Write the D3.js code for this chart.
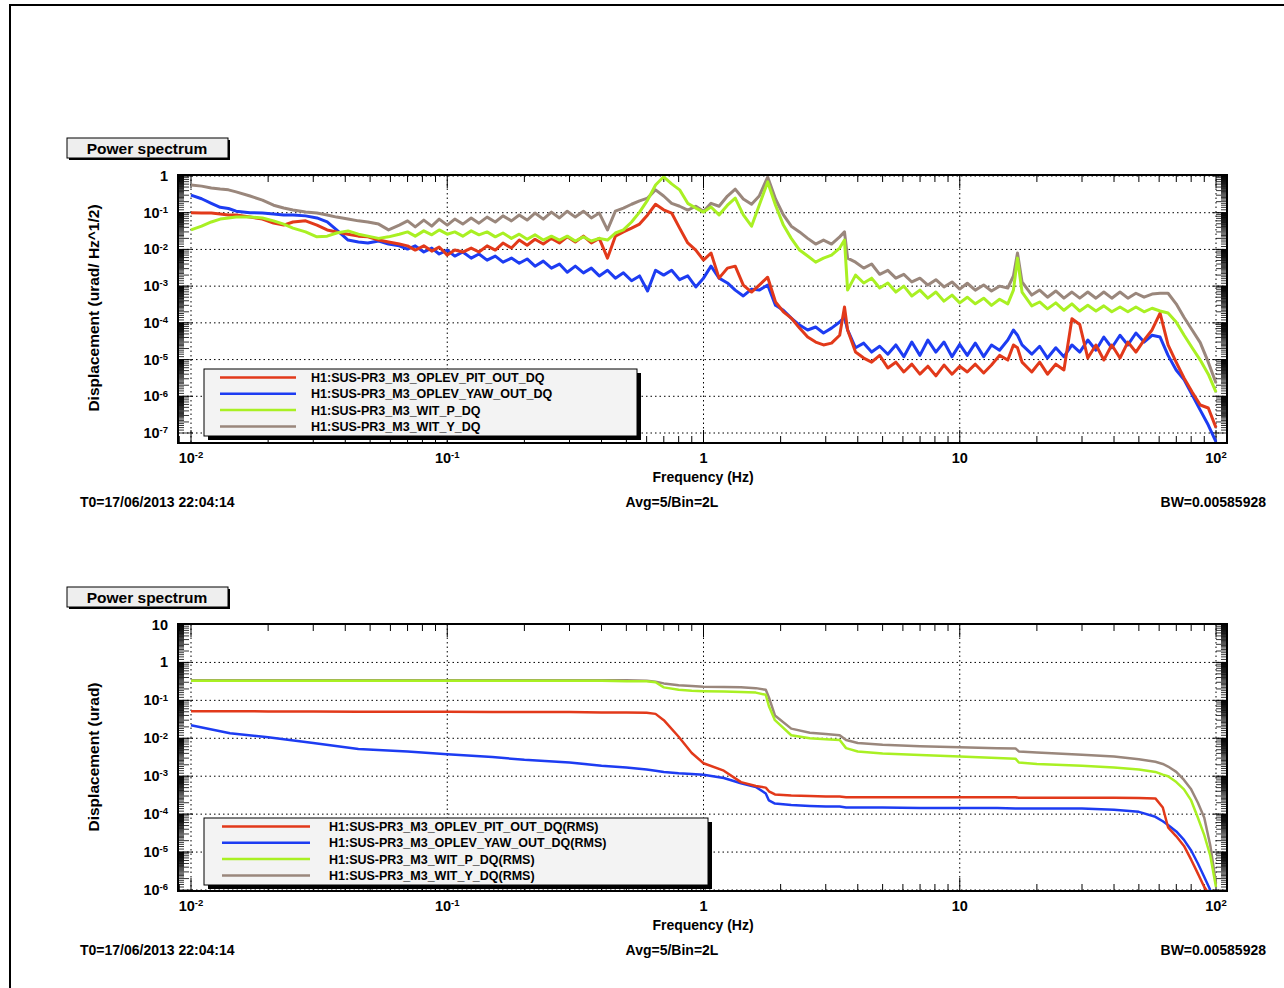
<!DOCTYPE html>
<html>
<head>
<meta charset="utf-8">
<script src="https://cdn.jsdelivr.net/npm/d3@7/dist/d3.min.js"></script>
<style>
	body { margin: 0; background: #fff; }
	svg text { font-family: "Liberation Sans", Arial, Helvetica, sans-serif; font-weight: bold; fill: #000; }
</style>
</head>
<body>
<div id="chart"></div>
<script>
// ---- data ----
var channels = ['H1:SUS-PR3_M3_OPLEV_PIT_OUT_DQ', 'H1:SUS-PR3_M3_OPLEV_YAW_OUT_DQ', 'H1:SUS-PR3_M3_WIT_P_DQ', 'H1:SUS-PR3_M3_WIT_Y_DQ'];
var rmsChannels = ['H1:SUS-PR3_M3_OPLEV_PIT_OUT_DQ(RMS)', 'H1:SUS-PR3_M3_OPLEV_YAW_OUT_DQ(RMS)', 'H1:SUS-PR3_M3_WIT_P_DQ(RMS)', 'H1:SUS-PR3_M3_WIT_Y_DQ(RMS)'];

var freqTop = [0.010,0.011,0.012,0.013,0.014,0.015,0.017,0.019,0.021,0.023,0.025,0.028,0.031,0.034,0.037,0.041,0.045,0.049,0.054,0.059,0.065,
	0.070,0.075,0.081,0.087,0.093,
	0.100,0.107,0.115,0.124,0.133,0.143,0.154,0.165,0.178,0.191,0.205,0.220,0.237,0.255,0.274,0.294,0.316,0.340,0.365,0.392,0.422,0.453,0.487,0.524,0.563,0.605,0.650,0.699,0.751,0.807,0.868,0.933,
	1.00,1.07,1.15,1.24,1.33,1.43,1.54,1.65,1.78,1.91,2.05,2.20,2.37,2.55,2.74,2.94,3.16,3.40,3.55,3.65,3.92,4.22,4.53,4.87,5.24,5.63,6.05,6.50,6.99,7.51,8.07,8.68,9.33,
	10.0,10.7,11.5,12.4,13.3,14.3,15.4,16.2,16.8,17.5,19.1,20.5,22.0,23.7,25.5,27.4,29.4,31.6,34.0,36.5,39.2,42.2,45.3,48.7,52.4,56.3,60.5,65.0,69.9,75.1,80.7,86.8,93.3,100];

var pitTop = [0.10,0.098,0.098,0.092,0.087,0.087,0.076,0.067,0.052,0.046,0.056,0.060,0.046,0.034,0.030,0.026,0.023,0.022,0.018,0.016,0.014,
	0.0125,0.0096,0.0125,0.0090,0.0116,
	0.0070,0.0096,0.0085,0.0109,0.0085,0.0125,0.0096,0.0149,0.0109,0.018,0.013,0.019,0.014,0.020,0.015,0.022,0.016,0.023,0.015,0.020,0.0058,0.023,0.030,0.038,0.049,0.087,0.17,0.12,0.098,0.038,0.015,0.0096,
	0.0051,0.0080,0.00165,0.0031,0.0035,0.00107,6.9e-4,1.07e-3,1.75e-3,3.7e-4,2.0e-4,1.35e-4,7.2e-5,4.1e-5,3.0e-5,2.5e-5,2.8e-5,4.6e-5,2.7e-4,6.4e-5,1.6e-5,1.1e-5,8.5e-6,1.3e-5,5.9e-6,8.5e-6,4.6e-6,7.5e-6,4.0e-6,6.6e-6,3.6e-6,7.1e-6,4.0e-6,
	6.6e-6,4.6e-6,7.5e-6,4.3e-6,7.1e-6,1.3e-5,9.7e-6,2.5e-5,2.1e-5,8.5e-6,4.6e-6,8.5e-6,4.0e-6,7.5e-6,5.2e-6,1.3e-4,9.0e-5,1.1e-5,2.5e-5,9.7e-6,2.5e-5,1.1e-5,3.0e-5,1.6e-5,3.4e-5,6.4e-5,1.85e-4,2.5e-5,8.5e-6,3.1e-6,1.3e-6,5.8e-7,4.8e-7,1.4e-7];

var yawTop = [0.30,0.24,0.18,0.14,0.13,0.11,0.10,0.098,0.092,0.087,0.087,0.082,0.072,0.056,0.034,0.018,0.016,0.015,0.017,0.014,0.0125,
	0.0102,0.0125,0.0085,0.0109,0.0075,
	0.0096,0.0066,0.0085,0.0058,0.0075,0.0051,0.0066,0.0045,0.0058,0.0042,0.0055,0.0035,0.0048,0.0031,0.0040,0.0024,0.0035,0.0023,0.0031,0.0019,0.0027,0.00165,0.0023,0.0014,0.0019,7.4e-4,0.0027,0.0020,0.0027,0.0015,0.0019,9.5e-4,
	0.00165,0.0035,0.00165,0.00122,7.8e-4,5.4e-4,8.3e-4,7.8e-4,1.07e-3,3.0e-4,2.2e-4,1.35e-4,8.7e-5,6.4e-5,7.7e-5,5.3e-5,7.2e-5,1.05e-4,1.45e-4,6.4e-5,2.1e-5,2.8e-5,1.6e-5,2.3e-5,1.4e-5,2.5e-5,1.2e-5,3.0e-5,1.3e-5,3.4e-5,1.6e-5,3.0e-5,1.2e-5,
	2.6e-5,1.3e-5,2.8e-5,1.2e-5,2.5e-5,1.8e-5,3.4e-5,6.4e-5,4.6e-5,2.5e-5,1.4e-5,2.3e-5,1.1e-5,2.1e-5,1.2e-5,2.5e-5,1.6e-5,3.4e-5,1.8e-5,4.1e-5,2.1e-5,4.6e-5,2.5e-5,5.3e-5,3.0e-5,4.6e-5,4.1e-5,1.3e-5,5.2e-6,2.8e-6,1.1e-6,4.2e-7,1.65e-7,5.7e-8];

var witPTop = [0.034,0.043,0.056,0.067,0.072,0.076,0.076,0.072,0.060,0.049,0.038,0.030,0.022,0.023,0.028,0.032,0.026,0.023,0.020,0.022,0.026,
	0.030,0.023,0.032,0.025,0.034,
	0.026,0.030,0.023,0.032,0.025,0.030,0.022,0.028,0.020,0.026,0.019,0.025,0.018,0.023,0.018,0.023,0.017,0.022,0.017,0.020,0.018,0.028,0.034,0.056,0.104,0.22,0.57,0.95,0.61,0.42,0.18,0.134,
	0.104,0.143,0.087,0.16,0.25,0.087,0.043,0.16,0.69,0.16,0.046,0.020,0.0096,0.0066,0.0045,0.0058,0.0070,0.0109,0.018,7.8e-4,0.0020,0.00122,0.00165,8.9e-4,1.22e-3,6.9e-4,1.0e-3,5.4e-4,7.8e-4,4.7e-4,6.9e-4,3.9e-4,5.7e-4,
	3.5e-4,5.0e-4,3.3e-4,4.7e-4,3.0e-4,4.4e-4,3.3e-4,7.8e-4,0.0058,6.9e-4,2.9e-4,3.7e-4,2.4e-4,3.5e-4,2.2e-4,3.3e-4,2.1e-4,3.0e-4,2.1e-4,2.9e-4,2.0e-4,2.7e-4,2.0e-4,2.7e-4,2.0e-4,2.5e-4,2.1e-4,1.85e-4,1.05e-4,4.6e-5,2.1e-5,9.7e-6,4.0e-6,1.3e-6];

var witYTop = [0.57,0.53,0.47,0.44,0.42,0.37,0.285,0.22,0.16,0.134,0.118,0.104,0.098,0.087,0.076,0.067,0.060,0.056,0.049,0.034,0.046,
	0.060,0.041,0.063,0.043,0.067,
	0.046,0.067,0.049,0.072,0.052,0.076,0.056,0.082,0.060,0.087,0.063,0.098,0.067,0.104,0.072,0.11,0.076,0.11,0.072,0.098,0.034,0.11,0.134,0.17,0.21,0.25,0.42,0.285,0.18,0.15,0.118,0.15,
	0.11,0.18,0.15,0.285,0.44,0.236,0.17,0.285,0.94,0.236,0.087,0.043,0.030,0.020,0.014,0.018,0.014,0.022,0.030,0.0058,0.0045,0.0031,0.0040,0.0021,0.0027,0.00165,0.0021,0.0013,0.00165,0.00107,0.0015,9.5e-4,0.0013,
	8.3e-4,0.0012,7.8e-4,1.07e-3,7.4e-4,1.0e-3,8.9e-4,0.0019,0.0080,0.0013,5.7e-4,7.8e-4,5.0e-4,7.4e-4,4.7e-4,6.9e-4,4.7e-4,6.9e-4,4.7e-4,6.9e-4,4.7e-4,6.9e-4,4.7e-4,6.4e-4,5.0e-4,6.1e-4,6.4e-4,6.4e-4,3.3e-4,1.4e-4,6.4e-5,2.9e-5,8.5e-6,2.3e-6];

var freqRms = [0.01,0.0142,0.02,0.03,0.045,0.07,0.1,0.15,0.2,0.3,0.4,0.5,0.6,0.65,0.7,0.8,0.9,1.0,1.2,1.4,1.6,1.75,1.8,1.9,2.2,2.6,3.0,3.4,3.6,4.0,5,7,10,14,16.5,17,20,30,40,50,58,62,65,70,75,80,85,90,95,100];

var pitRms = [0.052,0.052,0.051,0.051,0.050,0.050,0.050,0.049,0.049,0.049,0.048,0.048,0.047,0.044,0.030,0.011,0.0041,0.0022,0.0014,7.0e-4,5.5e-4,5.0e-4,4.0e-4,3.3e-4,3.1e-4,3.0e-4,2.9e-4,2.9e-4,2.8e-4,2.8e-4,
	2.8e-4,2.8e-4,2.8e-4,2.8e-4,2.8e-4,2.7e-4,2.7e-4,2.7e-4,2.7e-4,2.65e-4,2.6e-4,1.5e-4,4.5e-5,2.6e-5,1.45e-5,6.3e-6,2.7e-6,1.2e-6,7e-7,5e-7];
var yawRms = [0.022,0.0136,0.0107,0.0075,0.0052,0.0045,0.0038,0.0032,0.0027,0.0023,0.0019,0.0017,0.0015,0.0014,0.0013,0.0012,0.00115,0.0011,9e-4,6.5e-4,5.2e-4,3.5e-4,2.3e-4,1.9e-4,1.75e-4,1.65e-4,1.6e-4,1.6e-4,1.5e-4,1.5e-4,
	1.5e-4,1.45e-4,1.45e-4,1.45e-4,1.4e-4,1.4e-4,1.4e-4,1.4e-4,1.3e-4,1.15e-4,8.5e-5,6.5e-5,5.2e-5,3.5e-5,2.1e-5,1.1e-5,5e-6,2.2e-6,1.0e-6,5e-7];
var witPRms = [0.33,0.33,0.33,0.33,0.33,0.33,0.33,0.33,0.33,0.33,0.33,0.32,0.32,0.30,0.22,0.19,0.18,0.175,0.17,0.165,0.16,0.14,0.07,0.03,0.012,0.010,0.0095,0.009,0.0055,0.0045,
	0.0040,0.0036,0.0033,0.0030,0.0029,0.0023,0.0021,0.0019,0.0017,0.0015,0.0013,0.0011,0.0010,7e-4,4.5e-4,2.3e-4,8e-5,2.8e-5,8e-6,1.2e-6];
var witYRms = [0.34,0.34,0.34,0.34,0.34,0.34,0.34,0.34,0.34,0.34,0.34,0.34,0.33,0.31,0.28,0.25,0.24,0.23,0.225,0.22,0.21,0.19,0.12,0.04,0.018,0.014,0.013,0.012,0.009,0.0075,
	0.0068,0.0062,0.0058,0.0055,0.0054,0.0045,0.0042,0.0037,0.0033,0.0028,0.0024,0.0021,0.0018,0.0013,8e-4,4.5e-4,2e-4,8e-5,1.5e-5,1.5e-6];

var xDecades = [0.01, 0.1, 1, 10, 100];
var yDecadesTop = [1e-7, 1e-6, 1e-5, 1e-4, 1e-3, 1e-2, 1e-1, 1];
var yDecadesRms = [1e-6, 1e-5, 1e-4, 1e-3, 1e-2, 1e-1, 1, 10];
var footer = ['T0=17/06/2013 22:04:14', 'Avg=5/Bin=2L', 'BW=0.00585928'];

// styles
var colors = ['#e2391a', '#1d3cf2', '#a9f023', '#9a877c'];
var drawOrder = [1, 0, 3, 2];

var svg = d3.select('#chart').append('svg')
	.attr('width', 1284)
	.attr('height', 988);

svg.append('path')
	.attr('d', 'M10,988V5H1284')
	.attr('fill', 'none')
	.attr('stroke', '#000')
	.attr('stroke-width', 2);

var frameLeft = 178,
	frameRight = 1227;

var x = d3.scaleLog().domain([0.01, 100]).range([191, 1216]);

function expLabel(sel, v) {
	var e = Math.round(Math.log10(v));
	if (e === 0) { sel.text('1'); return; }
	if (e === 1) { sel.text('10'); return; }
	sel.append('tspan').text('10');
	sel.append('tspan')
		.attr('dy', '-0.5em')
		.attr('font-size', '9.5px')
		.text(e);
}

function drawPanel(p) {
	var g = svg.append('g');
	var y = d3.scaleLog().domain(p.yDomain).range(p.yRange);

	// title box
	g.append('rect').attr('x', 69).attr('y', p.titleY + 2).attr('width', 161).attr('height', 20).attr('fill', '#000');
	g.append('rect').attr('x', 67).attr('y', p.titleY).attr('width', 161).attr('height', 20)
		.attr('fill', '#eeeeee').attr('stroke', '#000').attr('stroke-width', 1);
	g.append('text').attr('x', 147).attr('y', p.titleY + 15.5)
		.attr('text-anchor', 'middle').attr('font-size', '15.5px').text('Power spectrum');

	var clipId = 'clip' + p.id;
	g.append('clipPath').attr('id', clipId).append('rect')
		.attr('x', frameLeft).attr('y', p.frameTop)
		.attr('width', frameRight - frameLeft).attr('height', p.frameBottom - p.frameTop);

	// dotted grid
	g.selectAll('.vgrid').data(xDecades).enter().append('line')
		.attr('x1', function(d) { return x(d); }).attr('x2', function(d) { return x(d); })
		.attr('y1', p.frameTop).attr('y2', p.frameBottom)
		.attr('stroke', '#000').attr('stroke-width', 1).attr('stroke-dasharray', '1.5,3');
	g.selectAll('.hgrid').data(p.yDecades).enter().append('line')
		.attr('x1', frameLeft).attr('x2', frameRight)
		.attr('y1', function(d) { return y(d); }).attr('y2', function(d) { return y(d); })
		.attr('stroke', '#000').attr('stroke-width', 1).attr('stroke-dasharray', '1.5,3');

	// y ticks, both sides, ROOT style dense log ticks
	var yTicks = [];
	p.yDecades.forEach(function(dec) {
		for (var k = 1; k < 10; k += 0.2) {
			var v = dec * k;
			var yy = y(v);
			if (yy < p.frameTop || yy > p.frameBottom) continue;
			var rk = Math.round(k * 10) / 10;
			var len = rk === 1 ? 15 : (rk % 1 === 0 ? 11 : 6);
			yTicks.push({ y: yy, len: len });
		}
	});
	g.selectAll('.ytl').data(yTicks).enter().append('line')
		.attr('x1', frameLeft).attr('x2', function(d) { return frameLeft + d.len; })
		.attr('y1', function(d) { return d.y; }).attr('y2', function(d) { return d.y; })
		.attr('stroke', '#000').attr('stroke-width', 0.8);
	g.selectAll('.ytr').data(yTicks).enter().append('line')
		.attr('x1', frameRight).attr('x2', function(d) { return frameRight - d.len; })
		.attr('y1', function(d) { return d.y; }).attr('y2', function(d) { return d.y; })
		.attr('stroke', '#000').attr('stroke-width', 0.8);

	// x ticks, bottom and top
	var xTicks = [];
	[0.001, 0.01, 0.1, 1, 10, 100].forEach(function(dec) {
		for (var k = 1; k < 10; k++) {
			var xx = x(dec * k);
			if (xx < frameLeft || xx > frameRight) continue;
			xTicks.push({ x: xx, len: k === 1 ? 13 : 7 });
		}
	});
	g.selectAll('.xtb').data(xTicks).enter().append('line')
		.attr('x1', function(d) { return d.x; }).attr('x2', function(d) { return d.x; })
		.attr('y1', p.frameBottom).attr('y2', function(d) { return p.frameBottom - d.len; })
		.attr('stroke', '#000').attr('stroke-width', 1);
	g.selectAll('.xtt').data(xTicks).enter().append('line')
		.attr('x1', function(d) { return d.x; }).attr('x2', function(d) { return d.x; })
		.attr('y1', p.frameTop).attr('y2', function(d) { return p.frameTop + d.len; })
		.attr('stroke', '#000').attr('stroke-width', 1);

	// series
	var line = d3.line()
		.x(function(d) { return x(d[0]); })
		.y(function(d) { return y(d[1]); });

	var lines = g.append('g').attr('clip-path', 'url(#' + clipId + ')');
	drawOrder.forEach(function(i) {
		var pts = p.freq.map(function(f, j) { return [f, p.series[i][j]]; });
		lines.append('path')
			.datum(pts)
			.attr('d', line)
			.attr('fill', 'none')
			.attr('stroke', colors[i])
			.attr('stroke-width', p.lineWidth)
			.attr('stroke-linejoin', 'round');
	});

	// frame
	g.append('rect')
		.attr('x', frameLeft).attr('y', p.frameTop)
		.attr('width', frameRight - frameLeft).attr('height', p.frameBottom - p.frameTop)
		.attr('fill', 'none').attr('stroke', '#000').attr('stroke-width', 2);

	// tick labels
	g.selectAll('.ylab').data(p.yDecades).enter().append('text')
		.attr('x', 168)
		.attr('y', function(d) { return y(d) + 5; })
		.attr('text-anchor', 'end')
		.attr('font-size', '14.5px')
		.each(function(d) { expLabel(d3.select(this), d); });
	g.selectAll('.xlab').data(xDecades).enter().append('text')
		.attr('x', function(d) { return x(d); })
		.attr('y', p.frameBottom + 20)
		.attr('text-anchor', 'middle')
		.attr('font-size', '14.5px')
		.each(function(d) { expLabel(d3.select(this), d); });

	// axis titles
	g.append('text')
		.attr('transform', 'translate(99,' + p.yTitleY + ') rotate(-90)')
		.attr('text-anchor', 'middle')
		.attr('font-size', '15.5px')
		.text(p.yTitle);
	g.append('text')
		.attr('x', 703).attr('y', p.frameBottom + 39)
		.attr('text-anchor', 'middle')
		.attr('font-size', '14px')
		.text('Frequency (Hz)');

	// footer
	var fy = p.frameBottom + 64;
	g.append('text').attr('x', 80).attr('y', fy).attr('font-size', '14px').text(footer[0]);
	g.append('text').attr('x', 672).attr('y', fy).attr('text-anchor', 'middle').attr('font-size', '14px').text(footer[1]);
	g.append('text').attr('x', 1266).attr('y', fy).attr('text-anchor', 'end').attr('font-size', '14px').text(footer[2]);

	// legend
	var lg = p.legend;
	g.append('rect').attr('x', lg.x + 4).attr('y', lg.y + 4).attr('width', lg.w).attr('height', lg.h).attr('fill', '#000');
	g.append('rect').attr('x', lg.x).attr('y', lg.y).attr('width', lg.w).attr('height', lg.h)
		.attr('fill', '#f3f3f3').attr('stroke', '#000').attr('stroke-width', 1);
	var rows = g.selectAll('.lrow').data(p.names).enter().append('g')
		.attr('transform', function(d, i) { return 'translate(0,' + (lg.y + 8.5 + i * 16.3) + ')'; });
	rows.append('line')
		.attr('x1', lg.x + lg.lineX0).attr('x2', lg.x + lg.lineX1)
		.attr('stroke', function(d, i) { return colors[i]; })
		.attr('stroke-width', 2.5);
	rows.append('text')
		.attr('x', lg.x + lg.textX)
		.attr('y', 4.5)
		.attr('font-size', '12.5px')
		.text(function(d) { return d; });
}

drawPanel({
	id: 'top',
	frameTop: 175, frameBottom: 443,
	yDomain: [1e-7, 1], yRange: [433, 176],
	yDecades: yDecadesTop,
	titleY: 138,
	yTitle: 'Displacement (urad/ Hz^1/2)', yTitleY: 308,
	freq: freqTop,
	series: [pitTop, yawTop, witPTop, witYTop],
	names: channels,
	lineWidth: 3,
	legend: { x: 204, y: 369, w: 433, h: 67, lineX0: 16, lineX1: 92, textX: 107 }
});

drawPanel({
	id: 'rms',
	frameTop: 624, frameBottom: 891,
	yDomain: [1e-6, 10], yRange: [890, 624.5],
	yDecades: yDecadesRms,
	titleY: 587,
	yTitle: 'Displacement (urad)', yTitleY: 757,
	freq: freqRms,
	series: [pitRms, yawRms, witPRms, witYRms],
	names: rmsChannels,
	lineWidth: 2.5,
	legend: { x: 204, y: 818, w: 504, h: 67, lineX0: 18, lineX1: 106, textX: 125 }
});
</script>
</body>
</html>
